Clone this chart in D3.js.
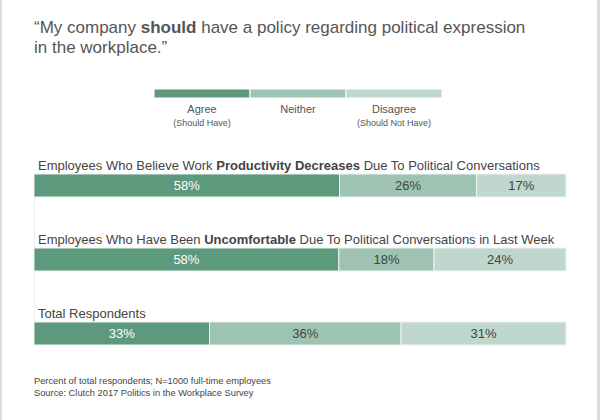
<!DOCTYPE html>
<html>
<head>
<meta charset="utf-8">
<script src="https://cdn.jsdelivr.net/npm/d3@7"></script>
<style>
  body { margin: 0; background: #fff; }
  svg { font-family: "Liberation Sans", Arial, sans-serif; }
</style>
</head>
<body>
<svg id="drawing_region"></svg>
<script>
// answer categories (legend)
const answers = ["Agree", "Neither", "Disagree"];
const answerNotes = ["(Should Have)", "", "(Should Not Have)"];
const answerColors = ["#5c997d", "#9fc3b2", "#bfd7cc"];

// question rows: plain / bold / plain pieces of the label
const rowLabels = [
    ["Employees Who Believe Work ", "Productivity Decreases", " Due To Political Conversations"],
    ["Employees Who Have Been ", "Uncomfortable", " Due To Political Conversations in Last Week"],
    ["Total Respondents", "", ""]
];
// shares as drawn (bar widths)
const agreeValues    = [58, 57.3, 33];
const neitherValues  = [26, 17.9, 36];
const disagreeValues = [17, 24.8, 31];
// printed labels
const agreeLabels    = ["58%", "58%", "33%"];
const neitherLabels  = ["26%", "18%", "36%"];
const disagreeLabels = ["17%", "24%", "31%"];

const config = {
    width: 600,
    height: 420,
    margin: {top: 10, right: 34, bottom: 20, left: 34}
};

const svg = d3.select('#drawing_region')
    .attr('width', config.width)
    .attr('height', config.height);

// side frame lines
svg.append('rect').attr('x', 0).attr('y', 0).attr('width', 2).attr('height', config.height).attr('fill', '#dedede');
svg.append('rect').attr('x', config.width - 3).attr('y', 0).attr('width', 3).attr('height', config.height).attr('fill', '#dedede');

// title
const title = svg.append('text')
    .attr('x', config.margin.left)
    .attr('y', 33)
    .attr('font-size', 17)
    .attr('fill', '#555');
title.append('tspan').text('\u201cMy company ');
title.append('tspan').attr('font-weight', 'bold').text('should');
title.append('tspan').text(' have a policy regarding political expression');
title.append('tspan').attr('x', config.margin.left).attr('dy', 20).text('in the workplace.\u201d');

// legend
const legendX = d3.scaleBand().domain(answers).range([154, 442]);
const legend = svg.append('g');
legend.selectAll('rect')
    .data(answers)
    .join('rect')
    .attr('x', d => legendX(d))
    .attr('y', 89)
    .attr('width', legendX.bandwidth())
    .attr('height', 9)
    .attr('fill', (d, i) => answerColors[i])
    .attr('stroke', '#fff')
    .attr('stroke-width', 1);
legend.selectAll('text.ans')
    .data(answers)
    .join('text')
    .attr('class', 'ans')
    .attr('x', d => legendX(d) + legendX.bandwidth() / 2)
    .attr('y', 113)
    .attr('text-anchor', 'middle')
    .attr('font-size', 11)
    .attr('fill', '#555')
    .text(d => d);
legend.selectAll('text.note')
    .data(answerNotes)
    .join('text')
    .attr('class', 'note')
    .attr('x', (d, i) => legendX(answers[i]) + legendX.bandwidth() / 2)
    .attr('y', 125.5)
    .attr('text-anchor', 'middle')
    .attr('font-size', 9)
    .attr('fill', '#555')
    .text(d => d);

// bars
const rows = rowLabels.map((l, i) => ({
    label: l,
    values: [agreeValues[i], neitherValues[i], disagreeValues[i]],
    texts: [agreeLabels[i], neitherLabels[i], disagreeLabels[i]]
}));

const rowStep = 74;
const barTop = i => 174 + i * rowStep;
const barH = 23;

// faint guide line on the left edge
svg.append('line')
    .attr('x1', config.margin.left + 0.5).attr('x2', config.margin.left + 0.5)
    .attr('y1', barTop(0)).attr('y2', barTop(rows.length - 1) + barH)
    .attr('stroke', '#eeeeee');

rows.forEach((row, i) => {
    const x = d3.scaleLinear()
        .domain([0, d3.sum(row.values)])
        .range([config.margin.left, config.width - config.margin.right]);
    const starts = d3.cumsum([0].concat(row.values));
    const g = svg.append('g');

    const label = g.append('text')
        .attr('x', config.margin.left + 4)
        .attr('y', barTop(i) - 4)
        .attr('font-size', 13)
        .attr('fill', '#444');
    label.append('tspan').text(row.label[0]);
    label.append('tspan').attr('font-weight', 'bold').text(row.label[1]);
    label.append('tspan').text(row.label[2]);

    g.selectAll('rect')
        .data(row.values)
        .join('rect')
        .attr('x', (d, j) => x(starts[j]))
        .attr('y', barTop(i))
        .attr('width', (d, j) => x(starts[j] + d) - x(starts[j]))
        .attr('height', barH)
        .attr('fill', (d, j) => answerColors[j])
        .attr('stroke', '#eef4f1')
        .attr('stroke-width', 1);

    g.selectAll('text.val')
        .data(row.texts)
        .join('text')
        .attr('class', 'val')
        .attr('x', (d, j) => (x(starts[j]) + x(starts[j + 1])) / 2)
        .attr('y', barTop(i) + barH / 2 + 4.5)
        .attr('text-anchor', 'middle')
        .attr('font-size', 13)
        .attr('fill', (d, j) => j === 0 ? '#fff' : '#444')
        .text(d => d);
});

// footnotes
const notes = svg.append('text')
    .attr('x', config.margin.left)
    .attr('y', 384)
    .attr('font-size', 9.3)
    .attr('fill', '#444');
notes.append('tspan').text('Percent of total respondents; N=1000 full-time employees');
notes.append('tspan').attr('x', config.margin.left).attr('dy', 11.5).text('Source: Clutch 2017 Politics in the Workplace Survey');
</script>
</body>
</html>
